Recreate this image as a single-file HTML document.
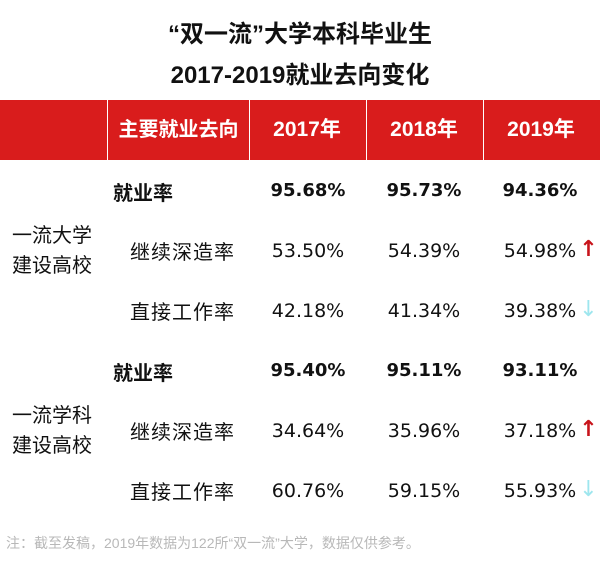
<!DOCTYPE html>
<html><head><meta charset="utf-8"><style>
body{margin:0;width:600px;height:565px;background:#fff;position:relative;overflow:hidden;font-family:"Liberation Sans","Noto Sans CJK SC",sans-serif;color:#111}
.t{position:absolute;white-space:nowrap}
.title{left:0;width:600px;text-align:center;font-size:24px;font-weight:bold;color:#111}
.hdr{position:absolute;top:100px;height:60px;background:#d91c1c}
.h{position:absolute;top:100px;height:60px;line-height:60px;color:#fff;font-weight:bold;font-size:21px;text-align:center}
.c{position:absolute;text-align:center;font-size:19px;line-height:24px;font-family:"DejaVu Sans",sans-serif;white-space:nowrap}
.b{font-weight:bold;font-size:18px}
.lab{font-size:20px}
.up{color:#c8141b;font-weight:bold;position:absolute;left:100%;top:-2px;margin-left:3px;font-family:"DejaVu Sans",sans-serif;font-size:22px}
.dn{color:#9ee6ee;position:absolute;left:100%;top:-2px;margin-left:3px;font-family:"DejaVu Sans",sans-serif;font-size:22px}
</style></head><body>
<div class="t title" style="top:14px">“双一流”大学本科毕业生</div>
<div class="t title" style="top:55px">2017-2019就业去向变化</div>
<div class="hdr" style="left:0;width:107px"></div>
<div class="hdr" style="left:108px;width:141px"></div>
<div class="hdr" style="left:250px;width:116px"></div>
<div class="hdr" style="left:367px;width:116px"></div>
<div class="hdr" style="left:484px;width:116px"></div>
<div class="h" style="left:108px;width:141px;font-size:20px">主要就业去向</div>
<div class="h" style="left:257px;width:100px">2017年</div>
<div class="h" style="left:374px;width:100px">2018年</div>
<div class="h" style="left:491px;width:100px">2019年</div>

<div class="t lab" style="left:12px;top:221px;line-height:30px">一流大学<br>建设高校</div>
<div class="t lab" style="left:12px;top:401px;line-height:30px">一流学科<br>建设高校</div>

<div class="t lab" style="left:113px;top:177px;font-weight:bold">就业率</div>
<div class="c b" style="left:258px;width:100px;top:179px">95.68%</div>
<div class="c b" style="left:374px;width:100px;top:179px">95.73%</div>
<div class="c b" style="left:490px;width:100px;top:179px">94.36%</div>

<div class="t lab" style="left:130px;top:236px;letter-spacing:1px">继续深造率</div>
<div class="c" style="left:258px;width:100px;top:239px">53.50%</div>
<div class="c" style="left:374px;width:100px;top:239px">54.39%</div>
<div class="c" style="left:490px;width:100px;top:239px"><span style="position:relative">54.98%<span class="up">↑</span></span></div>

<div class="t lab" style="left:130px;top:296px;letter-spacing:1px">直接工作率</div>
<div class="c" style="left:258px;width:100px;top:299px">42.18%</div>
<div class="c" style="left:374px;width:100px;top:299px">41.34%</div>
<div class="c" style="left:490px;width:100px;top:299px"><span style="position:relative">39.38%<span class="dn">↓</span></span></div>

<div class="t lab" style="left:113px;top:357px;font-weight:bold">就业率</div>
<div class="c b" style="left:258px;width:100px;top:359px">95.40%</div>
<div class="c b" style="left:374px;width:100px;top:359px">95.11%</div>
<div class="c b" style="left:490px;width:100px;top:359px">93.11%</div>

<div class="t lab" style="left:130px;top:416px;letter-spacing:1px">继续深造率</div>
<div class="c" style="left:258px;width:100px;top:419px">34.64%</div>
<div class="c" style="left:374px;width:100px;top:419px">35.96%</div>
<div class="c" style="left:490px;width:100px;top:419px"><span style="position:relative">37.18%<span class="up">↑</span></span></div>

<div class="t lab" style="left:130px;top:476px;letter-spacing:1px">直接工作率</div>
<div class="c" style="left:258px;width:100px;top:479px">60.76%</div>
<div class="c" style="left:374px;width:100px;top:479px">59.15%</div>
<div class="c" style="left:490px;width:100px;top:479px"><span style="position:relative">55.93%<span class="dn">↓</span></span></div>

<div class="t" style="left:6px;top:533px;font-size:14px;color:#b8b8b8">注：截至发稿，2019年数据为122所“双一流”大学，数据仅供参考。</div>
</body></html>
